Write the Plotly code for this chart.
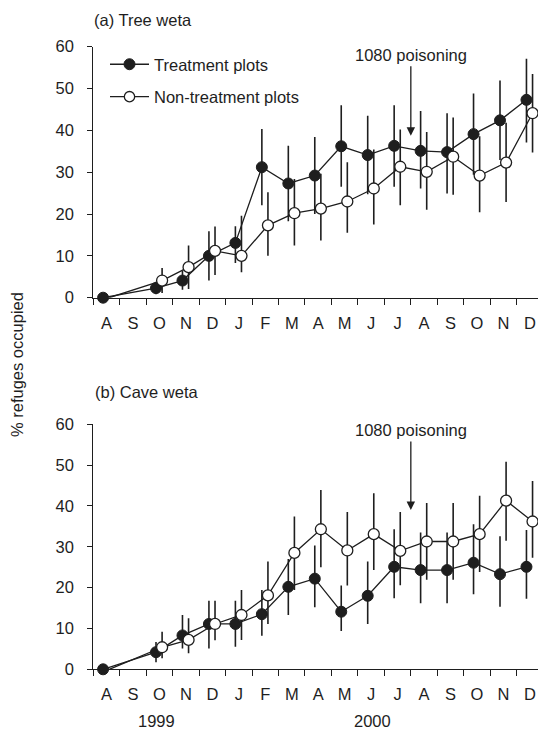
import plotly.graph_objects as go

W, H = 538, 731

months = ["A", "S", "O", "N", "D", "J", "F", "M", "A", "M", "J", "J", "A", "S", "O", "N", "D"]
idx = [0, 2, 3, 4, 5, 6, 7, 8, 9, 10, 11, 12, 13, 14, 15, 16]  # no survey in S 1999

# (a) Tree weta
tree_trt = [0, 2.3, 4.1, 10.0, 13.1, 31.2, 27.3, 29.2, 36.2, 34.1, 36.3, 35.1, 34.8, 39.1, 42.4, 47.3]
tree_trt_up = [0, 1.5, 2.3, 5.9, 4.0, 9.1, 9.0, 9.2, 9.8, 9.4, 9.7, 9.5, 9.3, 9.7, 9.5, 9.8]
tree_trt_dn = [0, 1.5, 2.2, 5.9, 4.8, 9.1, 9.0, 9.2, 9.7, 9.4, 9.8, 9.0, 9.9, 9.7, 9.5, 10.2]
tree_non = [0, 4.1, 7.3, 11.2, 10.0, 17.3, 20.2, 21.3, 23.0, 26.1, 31.3, 30.1, 33.7, 29.2, 32.3, 44.1]
tree_non_up = [0, 3.0, 5.2, 5.8, 9.6, 7.9, 8.2, 8.3, 9.4, 9.3, 8.9, 9.5, 9.4, 9.4, 9.5, 9.4]
tree_non_dn = [0, 3.0, 5.2, 5.8, 3.9, 7.3, 7.7, 7.6, 7.5, 8.6, 9.2, 9.1, 9.1, 8.8, 9.4, 9.4]

# (b) Cave weta
cave_trt = [0, 4.2, 8.3, 11.1, 11.1, 13.5, 20.2, 22.2, 14.1, 18.0, 25.1, 24.3, 24.3, 26.1, 23.3, 25.1]
cave_trt_up = [0, 2.5, 5.0, 5.7, 5.7, 5.9, 6.8, 8.1, 6.4, 8.4, 9.2, 9.2, 9.2, 9.4, 9.3, 9.0]
cave_trt_dn = [0, 2.5, 3.2, 6.0, 5.6, 5.3, 6.9, 7.0, 4.7, 6.9, 7.7, 8.1, 8.1, 7.7, 8.0, 7.8]
cave_non = [0, 5.4, 7.2, 11.1, 13.3, 18.1, 28.5, 34.3, 29.1, 33.1, 29.0, 31.3, 31.3, 33.1, 41.3, 36.2]
cave_non_up = [0, 3.8, 5.3, 5.7, 6.1, 8.3, 8.9, 9.6, 9.4, 10.0, 9.5, 9.4, 9.4, 9.4, 9.5, 9.9]
cave_non_dn = [0, 2.7, 3.3, 4.0, 6.1, 7.0, 9.1, 9.3, 8.6, 8.8, 8.4, 9.4, 9.4, 9.3, 9.8, 8.9]

y_ticks = [0, 10, 20, 30, 40, 50, 60]
years = ["1999", "2000"]
year_pos = [1.9, 10.05]
poison_month = 11.5
poison_tip = [38.7, 39.0]

INK = "#1e1e1e"
FONT = "Liberation Sans, Arial, sans-serif"
FS = 16.5
OFF_T, OFF_N = -0.13, 0.1

fig = go.Figure()

panels = [
    ("x", "y", tree_trt, tree_trt_up, tree_trt_dn, tree_non, tree_non_up, tree_non_dn),
    ("x2", "y2", cave_trt, cave_trt_up, cave_trt_dn, cave_non, cave_non_up, cave_non_dn),
]
for k, (xa, ya, t, tu, td, n, nu, nd) in enumerate(panels):
    xt = [i + OFF_T for i in idx]
    xn = [i + OFF_N for i in idx]
    # error bars first, so they sit beneath all markers
    for xx, yy, up, dn in [(xt, t, tu, td), (xn, n, nu, nd)]:
        fig.add_trace(go.Scatter(
            x=xx, y=yy, xaxis=xa, yaxis=ya, mode="markers", showlegend=False,
            hoverinfo="skip", marker=dict(size=1, opacity=0),
            error_y=dict(type="data", symmetric=False, array=up, arrayminus=dn,
                         width=0, thickness=1.6, color=INK),
            cliponaxis=False,
        ))
    fig.add_trace(go.Scatter(
        x=xt, y=t, xaxis=xa, yaxis=ya,
        mode="lines+markers", name="Treatment plots",
        showlegend=(k == 0), legendgroup="t" if k == 0 else None,
        line=dict(color=INK, width=1.3),
        marker=dict(size=11, color=INK, line=dict(color=INK, width=1)),
        cliponaxis=False,
    ))
    fig.add_trace(go.Scatter(
        x=xn, y=n, xaxis=xa, yaxis=ya,
        mode="lines+markers", name="Non-treatment plots",
        showlegend=(k == 0), legendgroup="n" if k == 0 else None,
        line=dict(color=INK, width=1.3),
        marker=dict(size=[0] + [11] * (len(n) - 1), color="#ffffff", opacity=1,
                    line=dict(color=INK, width=1.3)),
        cliponaxis=False,
    ))

def px_x(p):
    return p / W

def px_y(p):
    return 1 - p / H

xdom = [px_x(93.3), 1]
xr = [-0.5, 16.306]
xcommon = dict(
    domain=xdom, range=xr, tickvals=list(range(len(months))), ticktext=months,
    ticks="outside", ticklen=0, showline=True, linecolor=INK, linewidth=1.2,
    showgrid=False, zeroline=False, ticklabelstandoff=10, automargin=False,
    tickfont=dict(size=FS, color=INK, family=FONT),
    minor=dict(tickvals=[i - 0.5 for i in range(len(months) + 1)], ticks="outside",
               ticklen=6, tickwidth=1.2, tickcolor=INK, showgrid=False),
)
ycommon = dict(
    range=[0, 60], tickvals=y_ticks, ticks="outside", ticklen=5, tickwidth=1.2,
    tickcolor=INK, showline=True, linecolor=INK, linewidth=1.2, showgrid=False,
    zeroline=False, ticklabelstandoff=10, automargin=False,
    tickfont=dict(size=FS, color=INK, family=FONT),
)

fig.update_layout(
    width=W, height=H, margin=dict(l=0, r=0, t=0, b=0, autoexpand=False),
    paper_bgcolor="white", plot_bgcolor="white",
    font=dict(family=FONT, size=FS, color=INK),
    xaxis=dict(anchor="y", **xcommon),
    yaxis=dict(anchor="x", domain=[px_y(297.7), px_y(46.7)], **ycommon),
    xaxis2=dict(anchor="y2", **xcommon),
    yaxis2=dict(anchor="x2", domain=[px_y(669.3), px_y(424.3)], **ycommon),
    showlegend=True,
    legend=dict(x=px_x(105), y=px_y(47), xanchor="left", yanchor="top",
                bgcolor="rgba(0,0,0,0)", font=dict(size=FS, color=INK, family=FONT),
                tracegroupgap=8, traceorder="grouped", itemwidth=39),
)

ann = []
ann.append(dict(text="(a) Tree weta", x=px_x(92), y=px_y(20), xref="paper", yref="paper",
                xanchor="left", yanchor="middle", showarrow=False,
                font=dict(size=FS, color=INK, family=FONT)))
ann.append(dict(text="(b) Cave weta", x=px_x(93), y=px_y(392), xref="paper", yref="paper",
                xanchor="left", yanchor="middle", showarrow=False,
                font=dict(size=FS, color=INK, family=FONT)))
ann.append(dict(text="% refuges occupied", x=px_x(17), y=px_y(365), xref="paper", yref="paper",
                xanchor="center", yanchor="middle", textangle=-90, showarrow=False,
                font=dict(size=FS, color=INK, family=FONT)))
for yr, xp in zip(years, year_pos):
    ann.append(dict(text=yr, x=xp, y=px_y(721), xref="x2", yref="paper",
                    xanchor="center", yanchor="middle", showarrow=False,
                    font=dict(size=FS, color=INK, family=FONT)))
for (xref, yref), tip, ay in zip([("x", "y"), ("x2", "y2")], poison_tip, [-81, -80]):
    ann.append(dict(text="1080 poisoning", x=poison_month, y=tip, xref=xref, yref=yref,
                    ax=0, ay=ay, showarrow=True, arrowhead=2, arrowsize=1.3,
                    arrowwidth=1.3, arrowcolor=INK, standoff=0, borderpad=2,
                    font=dict(size=FS, color=INK, family=FONT)))
fig.update_layout(annotations=ann)

fig.write_html("out.html", config={"displayModeBar": False},
               post_script="document.body.style.margin='0px';document.body.style.overflow='hidden';")
